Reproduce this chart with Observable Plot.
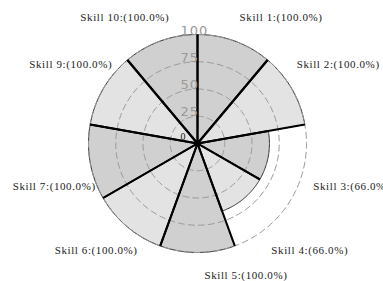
<!DOCTYPE html>
<html>
<head>
<meta charset="utf-8">
<script src="https://cdn.jsdelivr.net/npm/d3@7"></script>
<script src="https://cdn.jsdelivr.net/npm/@observablehq/plot@0.6"></script>
<style>
  html, body { margin: 0; padding: 0; background: #fff; }
  #chart { width: 383px; height: 281px; overflow: hidden; }
</style>
</head>
<body>
<div id="chart"></div>
<script>
// ---- data ----
const skills = ["Skill 1", "Skill 2", "Skill 3", "Skill 4", "Skill 5", "Skill 6", "Skill 7", "Skill 9", "Skill 10"];
const values = [100, 100, 66, 66, 100, 100, 100, 100, 100];
const percentLabels = ["100.0%", "100.0%", "66.0%", "66.0%", "100.0%", "100.0%", "100.0%", "100.0%", "100.0%"];
const ticks = [25, 50, 75, 100];
const zeroTick = [0];

// ---- layout ----
const W = 383, H = 281;
const cx = 197, cy = 143, k = 1.09; // px per unit
const n = skills.length;
const step = 360 / n;
const rad = d => d * Math.PI / 180;
const pt = (deg, r) => ({x: r * Math.sin(rad(deg)), y: r * Math.cos(rad(deg))});

// slice polygons
const slicePts = [];
skills.forEach((s, i) => {
  const a0 = i * step, a1 = (i + 1) * step, r = values[i];
  slicePts.push({...pt(0, 0), s, i});
  for (let a = a0; a <= a1 + 1e-9; a += 1) slicePts.push({...pt(a, r), s, i});
  slicePts.push({...pt(0, 0), s, i});
});

// radial edges
const edges = [];
skills.forEach((s, i) => {
  [i * step, (i + 1) * step].forEach(a => {
    const p = pt(a, values[i]);
    edges.push({x1: 0, y1: 0, x2: p.x, y2: p.y});
  });
});

// dashed grid circles
const circlePts = [];
ticks.forEach(t => {
  for (let a = 0; a <= 360; a += 2) circlePts.push({...pt(a, t), t});
});

// labels: placed at slice mid-angle, spread away from the horizontal
const labelA = 105.5, labelB = 121, labelShift = 6.4;
const spread = a => {
  const base = a <= 180 ? 90 : 270;
  const d = a - base; // -90..90
  if (d === 0) return a;
  return base + Math.sign(d) * (10 + Math.abs(d) * 8 / 9);
};
const labels = skills.map((s, i) => {
  const a = (i + 0.5) * step;
  const a2 = spread(a);
  return {
    x: labelShift + labelA * Math.sin(rad(a2)),
    y: labelB * Math.cos(rad(a2)),
    text: `${s}:(${percentLabels[i]})`,
    right: a <= 180
  };
});

const fillFor = i => (i % 2 === 0 ? "#d0d0d0" : "#e3e3e3");
const labelFont = {fill: "#222", fontSize: 11, fontFamily: "Liberation Serif", lineAnchor: "middle"};

const chart = Plot.plot({
  width: W,
  height: H,
  margin: 0,
  x: {domain: [-cx / k, (W - cx) / k], axis: null},
  y: {domain: [-(H - cy) / k, cy / k], axis: null},
  marks: [
    Plot.line(slicePts, {x: "x", y: "y", z: "i", fill: d => fillFor(d.i), stroke: "#333", strokeWidth: 1, curve: "linear"}),
    Plot.line(circlePts, {x: "x", y: "y", z: "t", stroke: "#9a9a9a", strokeWidth: 1, strokeDasharray: "6,4"}),
    Plot.link(edges, {x1: "x1", y1: "y1", x2: "x2", y2: "y2", stroke: "#000", strokeWidth: 2}),
    Plot.text(ticks, {x: -15.6, y: d => d, text: d => String(d), textAnchor: "start", lineAnchor: "bottom", fill: "#999", fontSize: 13, fontFamily: "DejaVu Sans"}),
    Plot.text(zeroTick, {x: -15.6, y: d => d, dy: -4, text: d => String(d), textAnchor: "start", lineAnchor: "bottom", fill: "#111", fontSize: 10, fontFamily: "Liberation Serif"}),
    Plot.text(labels.filter(d => d.right), {x: "x", y: "y", text: "text", textAnchor: "start", ...labelFont}),
    Plot.text(labels.filter(d => !d.right), {x: "x", y: "y", text: "text", textAnchor: "end", ...labelFont})
  ]
});
d3.select(chart).selectAll("text").each(function () {
  const t = this.textContent;
  if (t.startsWith("Skill")) d3.select(this).style("letter-spacing", "0.6px");
  else if (t !== "0") d3.select(this).style("letter-spacing", "1px");
});
document.getElementById("chart").appendChild(chart);
</script>
</body>
</html>
